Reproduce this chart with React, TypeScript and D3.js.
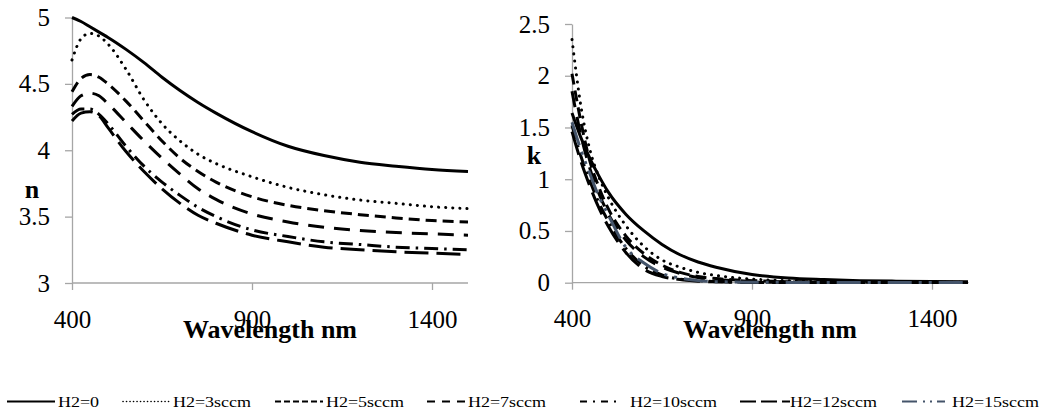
import React, {useRef, useEffect} from 'react'
import * as d3 from 'd3'

// wavelength grid (nm) shared by all series
const wavelengths = [400, 425, 450, 475, 500, 550, 600, 650, 700, 750, 800, 900, 1000, 1100, 1200, 1300, 1400, 1500]

const seriesNames = ['H2=0', 'H2=3sccm', 'H2=5sccm', 'H2=7sccm', 'H2=10sccm', 'H2=12sccm', 'H2=15sccm']

// refractive index n
const n0 = [5.0, 4.97, 4.93, 4.89, 4.85, 4.76, 4.66, 4.55, 4.45, 4.36, 4.28, 4.14, 4.03, 3.96, 3.91, 3.88, 3.855, 3.84]
const n3 = [4.68, 4.84, 4.88, 4.86, 4.8, 4.61, 4.38, 4.2, 4.07, 3.97, 3.9, 3.8, 3.72, 3.665, 3.625, 3.6, 3.575, 3.56]
const n5 = [4.44, 4.54, 4.57, 4.55, 4.5, 4.37, 4.22, 4.07, 3.94, 3.84, 3.76, 3.65, 3.585, 3.545, 3.515, 3.49, 3.47, 3.46]
const n7 = [4.33, 4.41, 4.43, 4.41, 4.35, 4.21, 4.07, 3.94, 3.82, 3.71, 3.63, 3.52, 3.46, 3.42, 3.395, 3.38, 3.37, 3.36]
const n10 = [4.27, 4.31, 4.31, 4.27, 4.2, 4.03, 3.88, 3.76, 3.66, 3.57, 3.5, 3.4, 3.35, 3.31, 3.29, 3.27, 3.26, 3.25]
const n12 = [4.22, 4.28, 4.29, 4.26, 4.17, 3.99, 3.84, 3.71, 3.6, 3.51, 3.45, 3.36, 3.31, 3.27, 3.25, 3.235, 3.225, 3.215]

// extinction coefficient k
const k0 = [1.64, 1.4, 1.2, 1.03, 0.88, 0.66, 0.5, 0.37, 0.27, 0.2, 0.15, 0.08, 0.045, 0.03, 0.02, 0.015, 0.012, 0.01]
const k3 = [2.35, 1.7, 1.28, 1.02, 0.83, 0.55, 0.35, 0.22, 0.15, 0.1, 0.07, 0.035, 0.02, 0.012, 0.008, 0.005, 0.004, 0.003]
const k5 = [2.02, 1.55, 1.17, 0.92, 0.72, 0.45, 0.28, 0.17, 0.1, 0.06, 0.04, 0.02, 0.01, 0.006, 0.004, 0.003, 0.002, 0.002]
const k7 = [1.85, 1.42, 1.1, 0.86, 0.67, 0.41, 0.25, 0.15, 0.09, 0.05, 0.03, 0.015, 0.008, 0.005, 0.003, 0.002, 0.002, 0.001]
const k10 = [1.52, 1.22, 0.98, 0.77, 0.6, 0.33, 0.16, 0.075, 0.035, 0.02, 0.01, 0.005, 0.003, 0.002, 0.002, 0.001, 0.001, 0.001]
const k12 = [1.46, 1.17, 0.93, 0.72, 0.55, 0.29, 0.13, 0.06, 0.03, 0.015, 0.008, 0.003, 0.002, 0.001, 0.001, 0.001, 0.001, 0.001]
const k15 = [1.55, 1.28, 1.05, 0.83, 0.66, 0.34, 0.19, 0.09, 0.045, 0.02, 0.01, 0.005, 0.003, 0.002, 0.001, 0.001, 0.001, 0.001]

const xTicks = [400, 900, 1400]
const nTicks = [3, 3.5, 4, 4.5, 5]
const kTicks = [0, 0.5, 1, 1.5, 2, 2.5]

const FONT = "'Liberation Serif', 'Times New Roman', Tinos, serif"
const AXIS_GREY = '#a6a6a6'

// line styles per series (index matches seriesNames)
const styles = [
  {dash: null, legendDash: null, color: '#000', cap: 'butt'},
  {dash: '0.1 7', legendDash: '0.1 3.4', color: '#000', cap: 'round'},
  {dash: '11 6', legendDash: '6 3', color: '#000', cap: 'butt'},
  {dash: '16 10', legendDash: '8 7', color: '#000', cap: 'butt'},
  {dash: '14 6 2.5 6', legendDash: '7 6 2 6', color: '#000', cap: 'butt'},
  {dash: '24 8', legendDash: '16 5', color: '#000', cap: 'butt'},
  {dash: '24 7 3 7 3 7', legendDash: '15 6 2 5 2 5', color: '#44546a', cap: 'butt'}
]

// legend layout: [lineStart, lineEnd, textX]
const legendLayout = [[7, 55, 58], [123, 170, 173], [275, 323, 326], [427, 467, 468], [580, 618, 630], [740, 790, 790], [902, 945, 952]]

export default function App() {
  const svgRef = useRef(null)

  useEffect(() => {
    const svg = d3.select(svgRef.current)
    svg.selectAll('*').remove()

    drawPanel(svg, {
      left: 72, right: 468, top: 17.5, bottom: 283,
      yDomain: [3, 5], yTicks: nTicks,
      label: 'n', labelX: 32, labelY: 198,
      series: [n0, n3, n5, n7, n10, n12]
    })
    drawPanel(svg, {
      left: 572, right: 968, top: 24, bottom: 282.7,
      yDomain: [0, 2.5], yTicks: kTicks,
      label: 'k', labelX: 534, labelY: 164,
      series: [k0, k3, k5, k7, k10, k12, k15]
    })

    // legend
    const lg = svg.append('g')
    seriesNames.forEach((name, i) => {
      const [x1, x2, tx] = legendLayout[i]
      const st = styles[i]
      lg.append('line')
        .attr('x1', x1).attr('x2', x2)
        .attr('y1', 401.5).attr('y2', 401.5)
        .attr('stroke', st.color)
        .attr('stroke-width', st.cap === 'round' ? 1.6 : 2)
        .attr('stroke-linecap', st.cap)
        .attr('stroke-dasharray', st.legendDash)
      lg.append('text')
        .attr('transform', `translate(${tx},406.5) scale(1.2,1)`)
        .style('font-family', FONT)
        .style('font-size', '15px')
        .attr('fill', '#000')
        .text(name)
    })
  }, [])

  function drawPanel(svg, opt) {
    const x = d3.scaleLinear().domain([400, 1500]).range([opt.left, opt.right])
    const y = d3.scaleLinear().domain(opt.yDomain).range([opt.bottom, opt.top])
    const g = svg.append('g')

    const yAxis = g.append('g')
      .attr('transform', `translate(${opt.left},0)`)
      .call(d3.axisLeft(y).tickValues(opt.yTicks).tickFormat(d => String(d)).tickSize(7).tickSizeOuter(0).tickPadding(15))
    const xAxis = g.append('g')
      .attr('transform', `translate(0,${opt.bottom})`)
      .call(d3.axisBottom(x).tickValues(xTicks).tickFormat(d => String(d)).tickSize(7).tickSizeOuter(0).tickPadding(20))

    ;[yAxis, xAxis].forEach(a => {
      a.attr('font-family', null).attr('font-size', null)
      a.select('.domain').attr('stroke', AXIS_GREY).attr('stroke-width', 1.3)
      a.selectAll('.tick line').attr('stroke', AXIS_GREY).attr('stroke-width', 1.3)
      a.selectAll('text')
        .attr('fill', '#000')
        .style('font-family', FONT)
        .style('font-size', '25px')
    })
    // x domain should end at plot edge
    xAxis.select('.domain').attr('d', `M${opt.left},0H${opt.right}`)

    const line = d3.line()
      .curve(d3.curveMonotoneX)
      .x((d, i) => x(wavelengths[i]))
      .y(d => y(d))

    opt.series.forEach((vals, i) => {
      const st = styles[i]
      g.append('path')
        .datum(vals)
        .attr('d', line)
        .attr('fill', 'none')
        .attr('stroke', st.color)
        .attr('stroke-width', 3)
        .attr('stroke-linecap', st.cap)
        .attr('stroke-dasharray', st.dash)
    })

    g.append('text')
      .attr('x', (opt.left + opt.right) / 2)
      .attr('y', 338)
      .attr('text-anchor', 'middle')
      .style('font-family', FONT)
      .style('font-weight', 'bold')
      .style('font-size', '26px')
      .text('Wavelength nm')

    g.append('text')
      .attr('x', opt.labelX)
      .attr('y', opt.labelY)
      .attr('text-anchor', 'middle')
      .style('font-family', FONT)
      .style('font-weight', 'bold')
      .style('font-size', '26px')
      .text(opt.label)
  }

  return (
    <svg
      ref={svgRef}
      width={1041}
      height={412}
      style={{position: 'absolute', left: 0, top: 0, background: '#fff'}}
    />
  )
}
